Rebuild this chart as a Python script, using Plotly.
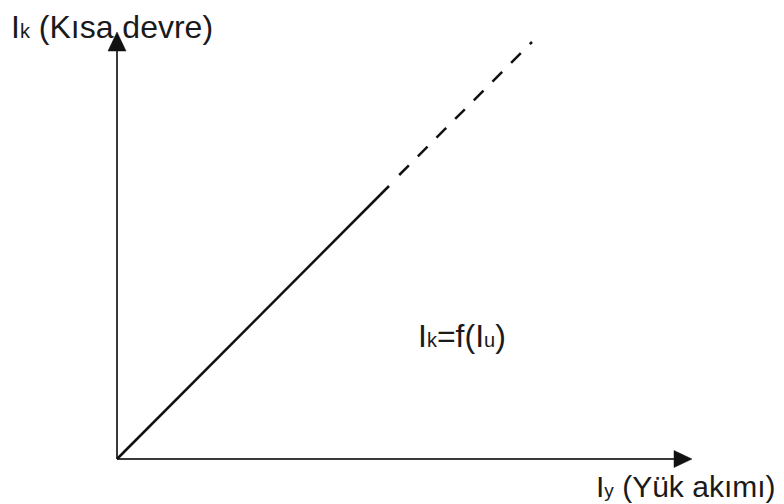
import plotly.graph_objects as go

# Data (abstract units: 100 px per unit, origin at axes corner)
x_axis_len = 5.75
y_axis_len = 4.27
solid_x = [0.0, 2.72]
solid_y = [0.0, 2.73]
dash_x = [2.822, 4.15]
dash_y = [2.84, 4.17]
y_label = "I<span style='font-size:20px'>k</span> (Kısa devre)"
x_label = "I<span style='font-size:19px'>y</span> (Yük akımı)"
eq_label = "I<span style='font-size:20px'>k</span>=f(I<span style='font-size:20px'>u</span>)"
eq_pos = (3.445, 1.235)

axis_color = "#3a3a3a"
line_color = "#111111"
head_len = 0.18
head_half = 0.085

fig = go.Figure()
# axes
fig.add_trace(go.Scatter(x=[0, x_axis_len - head_len], y=[0, 0], mode="lines",
                         line=dict(color=axis_color, width=2), hoverinfo="skip"))
fig.add_trace(go.Scatter(x=[0, 0], y=[0, y_axis_len - head_len], mode="lines",
                         line=dict(color=axis_color, width=2), hoverinfo="skip"))
# arrowheads
fig.add_trace(go.Scatter(
    x=[x_axis_len - head_len, x_axis_len, x_axis_len - head_len, x_axis_len - head_len],
    y=[head_half, 0, -head_half, head_half], mode="lines", fill="toself",
    fillcolor="#111111", line=dict(color="#111111", width=0.5), hoverinfo="skip"))
fig.add_trace(go.Scatter(
    x=[-head_half - 0.005, 0, head_half + 0.005, -head_half - 0.005],
    y=[y_axis_len - head_len - 0.01, y_axis_len, y_axis_len - head_len - 0.01, y_axis_len - head_len - 0.01],
    mode="lines", fill="toself",
    fillcolor="#111111", line=dict(color="#111111", width=0.5), hoverinfo="skip"))
# function line
fig.add_trace(go.Scatter(x=solid_x, y=solid_y, mode="lines",
                         line=dict(color=line_color, width=2.5), hoverinfo="skip"))
fig.add_trace(go.Scatter(x=dash_x, y=dash_y, mode="lines",
                         line=dict(color=line_color, width=2.5, dash="13.7px,12.7px"), hoverinfo="skip"))

font = dict(family="Liberation Sans, Arial, sans-serif", size=32, color="#1a1a1a")
fig.add_annotation(x=-1.08, y=4.32, text=y_label, showarrow=False, xanchor="left",
                   yanchor="middle", font=font)
fig.add_annotation(x=4.765, y=-0.27, text=x_label, showarrow=False, xanchor="left",
                   yanchor="middle", font=dict(font, size=30))
fig.add_annotation(x=eq_pos[0], y=eq_pos[1], text=eq_label, showarrow=False,
                   xanchor="center", yanchor="middle", font=font)

fig.update_layout(
    width=784, height=504, margin=dict(l=0, r=0, t=0, b=0),
    plot_bgcolor="white", paper_bgcolor="white", showlegend=False,
    hovermode=False,
    xaxis=dict(range=[-1.17, 6.67], visible=False, fixedrange=True),
    yaxis=dict(range=[-0.45, 4.59], visible=False, fixedrange=True),
)
fig.write_html(
    "out.html",
    config={"displayModeBar": False, "staticPlot": True},
    post_script="document.body.style.margin='0';document.body.style.overflow='hidden';",
)
